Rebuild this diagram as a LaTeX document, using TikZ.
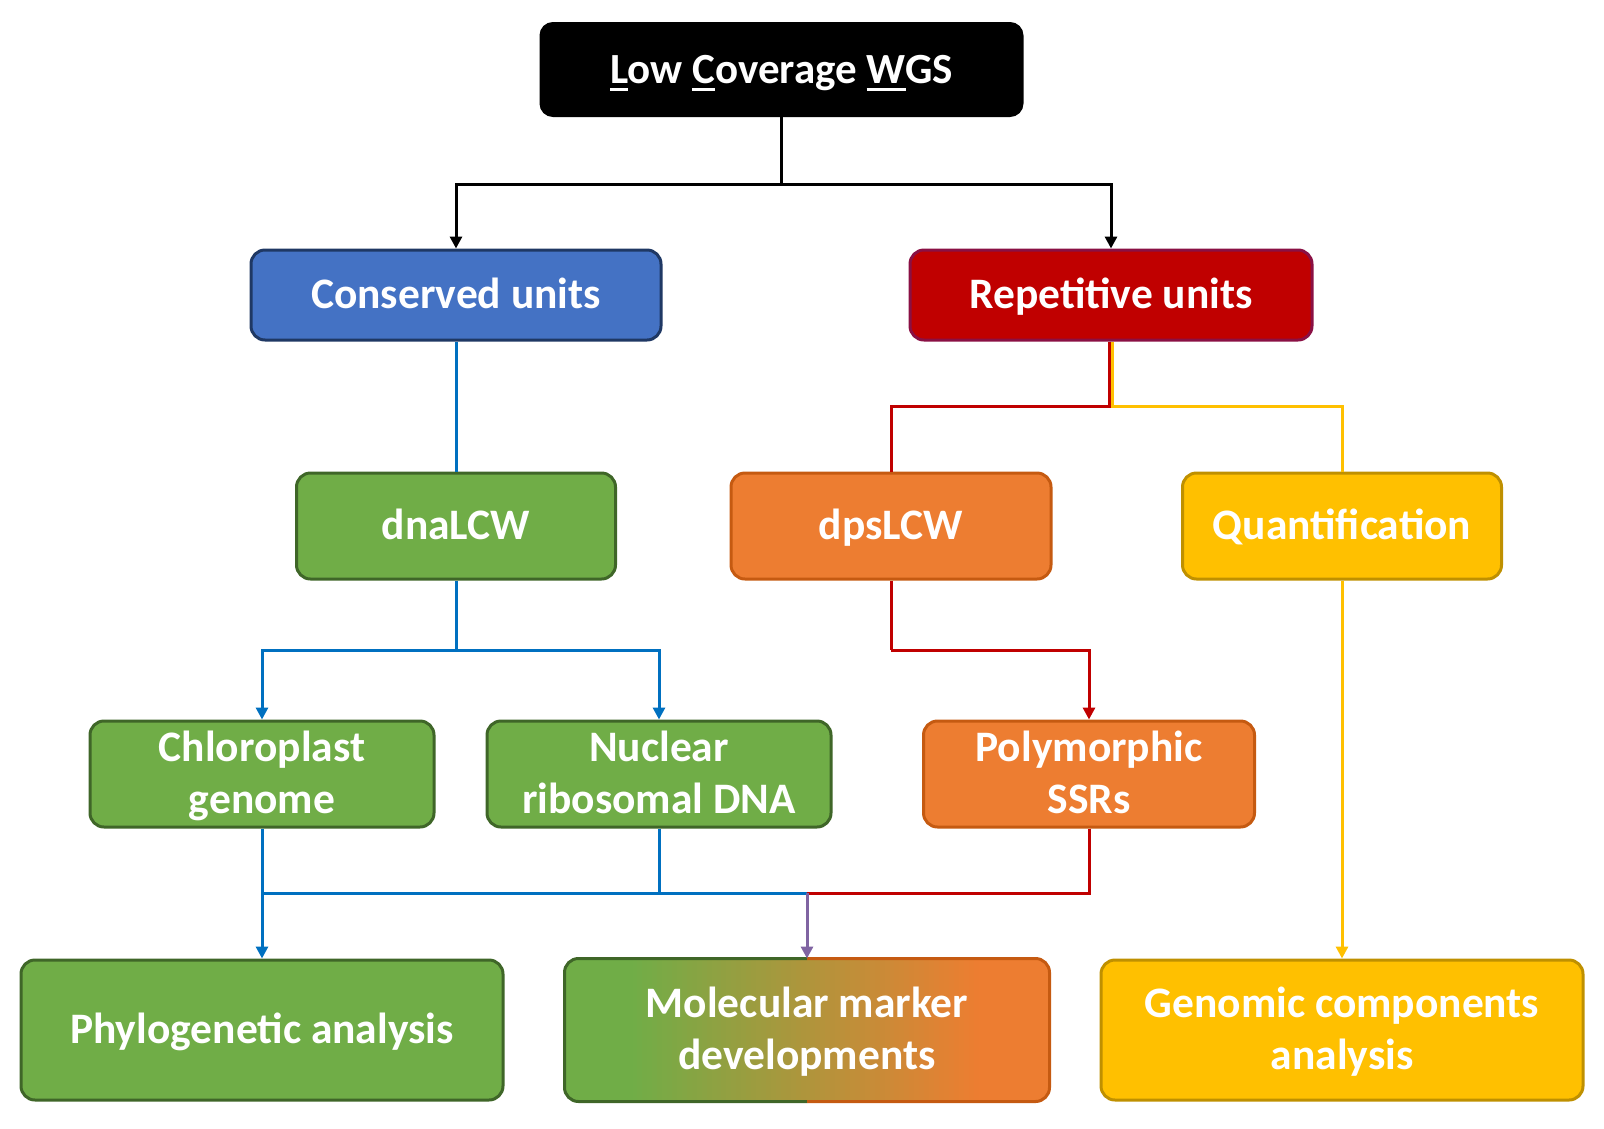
\documentclass[tikz,border=0pt]{standalone}
\usepackage{fontspec}
\setmainfont{Carlito}
\usetikzlibrary{arrows.meta,calc,backgrounds}
\definecolor{bfill}{HTML}{4472C4}\definecolor{bdraw}{HTML}{1F3864}
\definecolor{rfill}{HTML}{C00000}\definecolor{rdraw}{HTML}{8A1044}
\definecolor{gfill}{HTML}{70AD47}\definecolor{gdraw}{HTML}{3F6628}
\definecolor{ofill}{HTML}{ED7D31}\definecolor{odraw}{HTML}{C55A11}
\definecolor{yfill}{HTML}{FFC000}\definecolor{ydraw}{HTML}{BF9000}
\definecolor{lblue}{HTML}{0070C0}\definecolor{lred}{HTML}{C00000}
\definecolor{lyellow}{HTML}{FFC000}\definecolor{lpurple}{HTML}{8064A2}
\newcommand\myst{\rule[-0.26em]{0pt}{1.16em}}
\newcommand\myul[1]{\setbox0\hbox{#1}\rlap{\rule[-0.17em]{\wd0}{0.055em}}#1}
\tikzset{
  box/.style={rounded corners=14pt, line width=3pt, text=white, align=center,
    inner sep=0pt, font=\fontsize{43.5}{52}\selectfont\bfseries},
  conn/.style={line width=3pt},
  arr/.style={conn, -{Triangle[width=12pt,length=12pt]}},
}
\begin{document}
\begin{tikzpicture}[x=1pt,y=-1pt]
\useasboundingbox (0,0) rectangle (1604,1128);
% nodes
\node[box, fill=black, draw=black, rounded corners=12pt, minimum width=481pt, minimum height=92pt,
  font=\fontsize{43}{52}\selectfont\bfseries] (t) at (781.5,69.5) {\myst\myul{L}ow \myul{C}overage \myul{W}GS};
\node[box, fill=bfill, draw=bdraw, minimum width=410pt, minimum height=90pt] (cons) at (456,295) {\myst Conserved units};
\node[box, fill=rfill, draw=rdraw, minimum width=402pt, minimum height=90pt] (rep) at (1111,295) {\myst Repetitive units};
\node[box, fill=gfill, draw=gdraw, minimum width=319pt, minimum height=106pt] (dna) at (456,526) {\myst dnaLCW};
\node[box, fill=ofill, draw=odraw, minimum width=320pt, minimum height=106pt] (dps) at (891,526) {\myst dpsLCW};
\node[box, fill=yfill, draw=ydraw, minimum width=319pt, minimum height=106pt] (quant) at (1342,526) {\myst Quantification};
\node[box, fill=gfill, draw=gdraw, minimum width=344pt, minimum height=106pt] (chl) at (262,774) {\myst Chloroplast\\\myst genome};
\node[box, fill=gfill, draw=gdraw, minimum width=344pt, minimum height=106pt] (nuc) at (659,774) {\myst Nuclear\\\myst ribosomal DNA};
\node[box, fill=ofill, draw=odraw, minimum width=331pt, minimum height=106pt] (poly) at (1089,774) {\myst Polymorphic\\\myst SSRs};
\node[box, fill=gfill, draw=gdraw, minimum width=482pt, minimum height=140pt] (phy) at (262,1030) {\myst Phylogenetic analysis};
\node[box, minimum width=482pt, minimum height=140pt] (mol) at (807,1030) {\myst Molecular marker\\\myst developments};
\begin{scope}[on background layer]
  \fill[gfill, rounded corners=14pt] (mol.south west) rectangle ($(mol.north west)+(90,0)$);
  \fill[ofill, rounded corners=14pt] ($(mol.south east)+(-90,0)$) rectangle (mol.north east);
  \foreach \i in {0,...,69}{
    \pgfmathsetmacro\pc{100-(\i+0.5)*100/70}
    \fill[gfill!\pc!ofill] ($(mol.south west)+(68+\i*4.943,0)$) rectangle ($(mol.north west)+(68+\i*4.943+5.6,0)$);
  }
  \draw[line width=3pt, gdraw, rounded corners=14pt] (mol.north) -- (mol.north west) -- (mol.south west) -- (mol.south);
  \draw[line width=3pt, odraw, rounded corners=14pt] (mol.north) -- (mol.north east) -- (mol.south east) -- (mol.south);
\end{scope}
\node[box, fill=yfill, draw=ydraw, minimum width=482pt, minimum height=140pt] (gen) at (1342,1030) {\myst Genomic components\\\myst analysis};
% connectors
\coordinate (j1) at (781.5,184);
\draw[conn] (t.south) -- (j1);
\draw[arr] (j1) -| (cons.north);
\draw[arr] (j1) -| (rep.north);
\draw[conn, lblue] (cons.south) -- (dna.north);
\coordinate (j2) at (1111,406);
\draw[conn, lyellow] ([xshift=1.2pt]rep.south) -- ([xshift=1.2pt]j2) -| (quant.north);
\draw[conn, lred] ([xshift=-1.2pt]rep.south) -- ([xshift=-1.2pt]j2) -| (dps.north);
\coordinate (j3) at (456,650);
\draw[conn, lblue] (dna.south) -- (j3);
\draw[arr, lblue] (j3) -| (chl.north);
\draw[arr, lblue] (j3) -| (nuc.north);
\coordinate (j4) at (891,650);
\draw[conn, lred] (dps.south) -- (j4);
\draw[arr, lred] (j4) -| (poly.north);
\draw[arr, lyellow] (quant.south) -- (gen.north);
\coordinate (j5) at (807,893);
\draw[conn, lred] (poly.south) |- (j5);
\draw[conn, lblue] (nuc.south) -- (nuc.south |- j5);
\draw[conn, lblue] (chl.south) |- (j5);
\draw[arr, lblue] (chl.south |- j5) -- (phy.north);
\draw[arr, lpurple] (j5) -- (mol.north);
\end{tikzpicture}
\end{document}
